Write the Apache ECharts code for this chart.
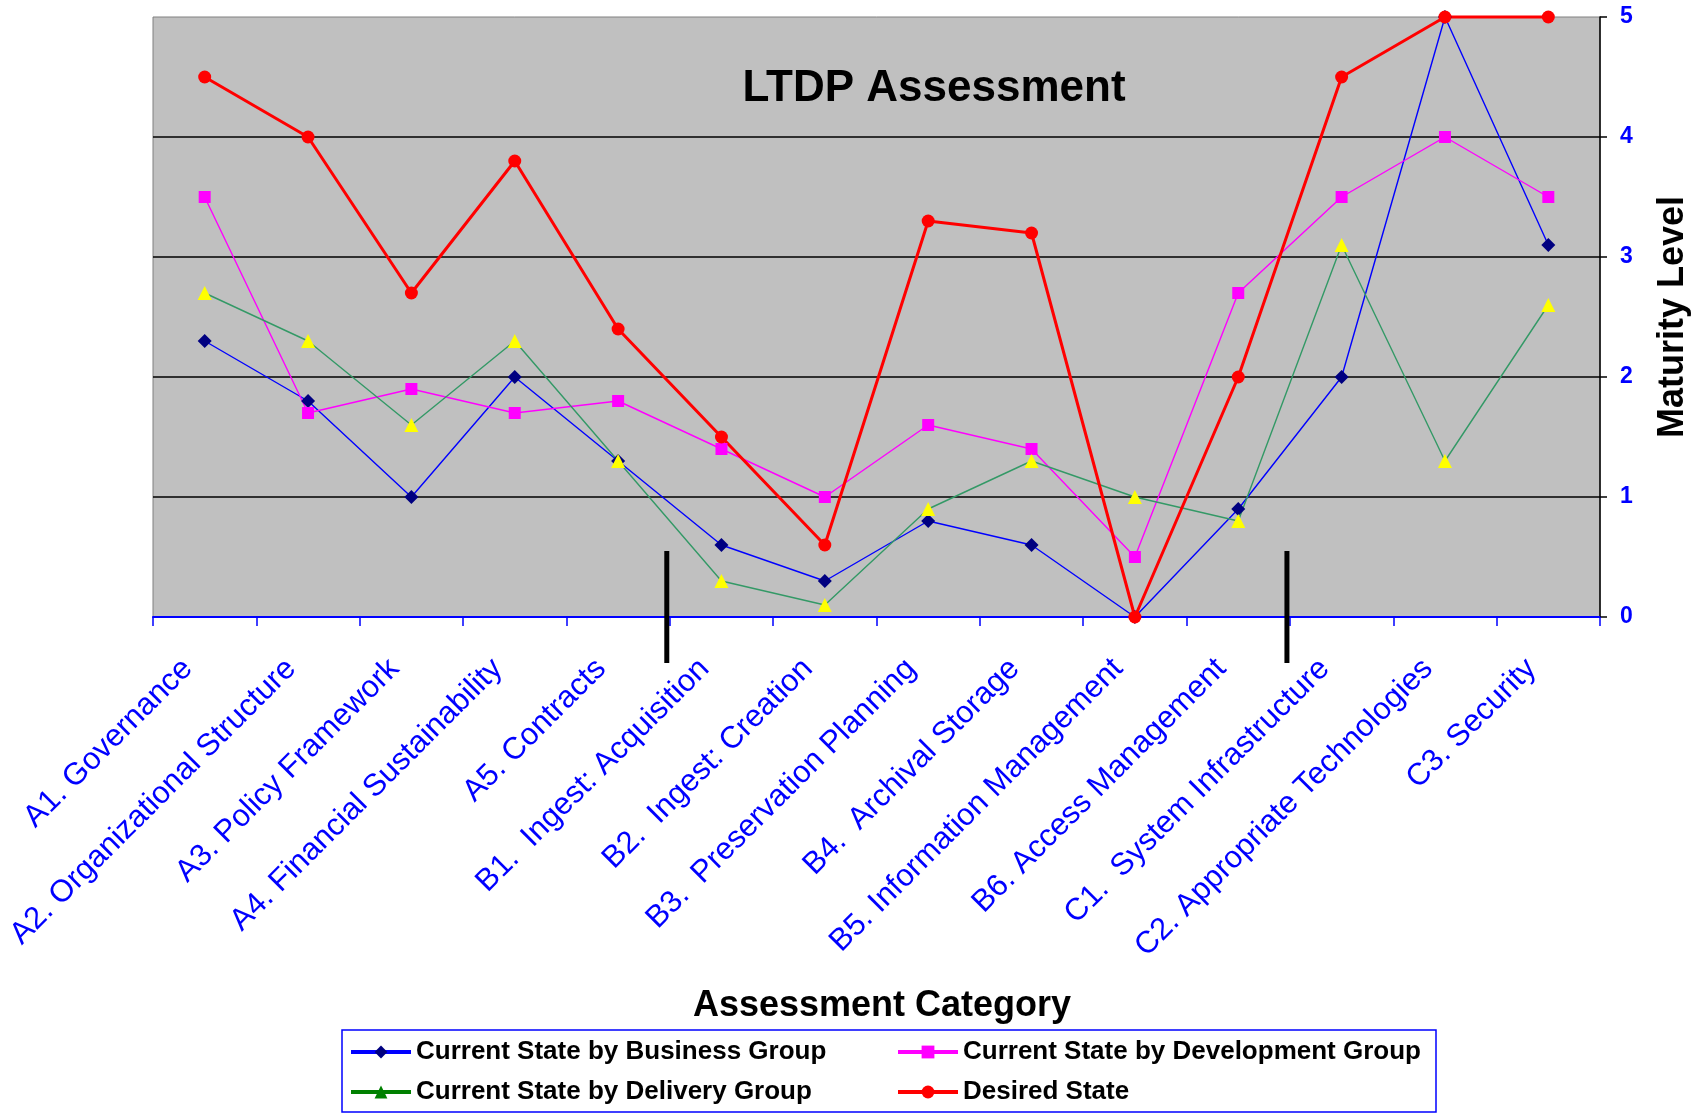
<!DOCTYPE html>
<html>
<head>
<meta charset="utf-8">
<title>LTDP Assessment</title>
<script src="https://cdn.jsdelivr.net/npm/echarts@6/dist/echarts.min.js"></script>
<style>
  html, body { margin: 0; padding: 0; background: #fff; }
  #chart { width: 1699px; height: 1113px; }
</style>
</head>
<body>
<div id="chart"></div>
<script>
// categories on the x axis
const categories = [
  'A1. Governance',
  'A2. Organizational Structure',
  'A3. Policy Framework',
  'A4. Financial Sustainability',
  'A5. Contracts',
  'B1.  Ingest: Acquisition',
  'B2.  Ingest: Creation',
  'B3.  Preservation Planning',
  'B4.  Archival Storage',
  'B5. Information Management',
  'B6. Access Management',
  'C1.  System Infrastructure',
  'C2. Appropriate Technologies',
  'C3. Security',
];

// maturity levels
const businessGroup = [2.3, 1.8, 1.0, 2.0, 1.3, 0.6, 0.3, 0.8, 0.6, 0.0, 0.9, 2.0, 5.0, 3.1];
const developmentGroup = [3.5, 1.7, 1.9, 1.7, 1.8, 1.4, 1.0, 1.6, 1.4, 0.5, 2.7, 3.5, 4.0, 3.5];
const deliveryGroup = [2.7, 2.3, 1.6, 2.3, 1.3, 0.3, 0.1, 0.9, 1.3, 1.0, 0.8, 3.1, 1.3, 2.6];
const desiredState = [4.5, 4.0, 2.7, 3.8, 2.4, 1.5, 0.6, 3.3, 3.2, 0.0, 2.0, 4.5, 5.0, 5.0];

const yTicks = [0, 1, 2, 3, 4, 5];

// black separators drawn after these categories (A | B | C groups)
const groupBreaks = [4, 10];

const font = "'Liberation Sans', Arial, sans-serif";

const chart = echarts.init(document.getElementById('chart'));

const legendText = { fontFamily: font, fontSize: 26, fontWeight: 'bold', color: '#000' };

const option = {
  backgroundColor: '#ffffff',
  animation: false,
  textStyle: { fontFamily: font },
  title: [
    {
      text: 'LTDP Assessment',
      left: 929,
      top: 62,
      textAlign: 'center',
      textStyle: { fontFamily: font, fontSize: 44, fontWeight: 'bold', color: '#000' },
    },
    {
      text: 'Assessment Category',
      left: 877,
      top: 983,
      textAlign: 'center',
      textStyle: { fontFamily: font, fontSize: 36, fontWeight: 'bold', color: '#000' },
    },
  ],
  grid: {
    left: 153,
    right: 97,
    top: 17,
    bottom: 496,
    show: true,
    backgroundColor: '#c0c0c0',
    borderColor: '#808080',
    borderWidth: 1,
  },
  legend: [
    {
      data: ['Current State by Business Group', {
        name: 'Current State by Delivery Group',
        itemStyle: { color: '#008000' },
        lineStyle: { color: '#008000' },
      }],
      orient: 'vertical',
      left: 349,
      top: 1039,
      padding: 0,
      itemGap: 14,
      itemWidth: 60,
      itemHeight: 16,
      lineStyle: { width: 4 },
      textStyle: legendText,
    },
    {
      data: ['Current State by Development Group', 'Desired State'],
      orient: 'vertical',
      left: 896,
      top: 1039,
      padding: 0,
      itemGap: 14,
      itemWidth: 60,
      itemHeight: 16,
      lineStyle: { width: 4 },
      textStyle: legendText,
    },
  ],
  xAxis: {
    type: 'category',
    data: categories,
    boundaryGap: true,
    axisLine: { lineStyle: { color: '#0000ff', width: 2 } },
    axisTick: { show: true, length: 9, lineStyle: { color: '#0000ff', width: 1.5 } },
    axisLabel: {
      interval: 0,
      rotate: 45,
      margin: 30,
      padding: [0, 24, 0, 0],
      color: '#0000ff',
      fontFamily: font,
      fontSize: 31,
    },
    splitLine: { show: false },
  },
  yAxis: {
    type: 'value',
    position: 'right',
    min: yTicks[0],
    max: yTicks[yTicks.length - 1],
    interval: 1,
    name: 'Maturity Level',
    nameLocation: 'middle',
    nameRotate: 90,
    nameGap: 55,
    nameTextStyle: { fontFamily: font, fontSize: 36, fontWeight: 'bold', color: '#000' },
    axisLine: { show: true, lineStyle: { color: '#000', width: 1.5 } },
    axisTick: { show: true, length: 7, lineStyle: { color: '#000', width: 1.5 } },
    axisLabel: {
      margin: 20,
      color: '#0000ff',
      fontFamily: font,
      fontSize: 23,
      fontWeight: 'bold',
    },
    splitLine: {
      show: true,
      showMinLine: false,
      showMaxLine: false,
      lineStyle: { color: '#000', width: 1.5 },
    },
  },
  series: [
    {
      name: 'Current State by Business Group',
      type: 'line',
      data: businessGroup,
      clip: false,
      symbol: 'diamond',
      symbolSize: 14,
      itemStyle: { color: '#000080' },
      lineStyle: { color: '#0000ff', width: 1.4 },
    },
    {
      name: 'Current State by Development Group',
      type: 'line',
      data: developmentGroup,
      clip: false,
      symbol: 'rect',
      symbolSize: 12,
      itemStyle: { color: '#ff00ff' },
      lineStyle: { color: '#ff00ff', width: 1.4 },
    },
    {
      name: 'Current State by Delivery Group',
      type: 'line',
      data: deliveryGroup,
      clip: false,
      symbol: 'triangle',
      symbolSize: 14,
      itemStyle: { color: '#ffff00' },
      lineStyle: { color: '#339966', width: 1.4 },
    },
    {
      name: 'Desired State',
      type: 'line',
      data: desiredState,
      clip: false,
      symbol: 'circle',
      symbolSize: 13,
      itemStyle: { color: '#ff0000' },
      lineStyle: { color: '#ff0000', width: 3 },
    },
  ],
};

chart.setOption(option);

// legend frame + group separators, placed from the axis scales
function drawExtras() {
  const elements = [
    {
      type: 'rect',
      z: -1,
      shape: { x: 342, y: 1030, width: 1094, height: 82 },
      style: { fill: '#ffffff', stroke: '#0000ff', lineWidth: 1.5 },
    },
  ];
  const yZero = chart.convertToPixel({ yAxisIndex: 0 }, 0);
  const yTop = chart.convertToPixel({ yAxisIndex: 0 }, 0.55);
  groupBreaks.forEach((idx) => {
    const a = chart.convertToPixel({ xAxisIndex: 0 }, categories[idx]);
    const b = chart.convertToPixel({ xAxisIndex: 0 }, categories[idx + 1]);
    const x = (a + b) / 2 - 3;
    elements.push({
      type: 'line',
      z: 100,
      shape: { x1: x, y1: yTop, x2: x, y2: yZero + 46 },
      style: { stroke: '#000', lineWidth: 5 },
    });
  });
  chart.setOption({ graphic: elements });
}

drawExtras();
</script>
</body>
</html>
